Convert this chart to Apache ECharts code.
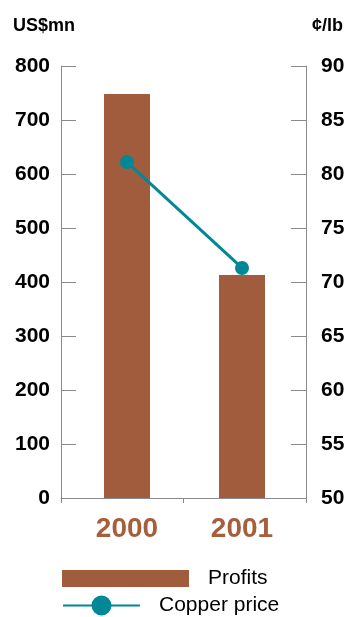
<!DOCTYPE html>
<html>
<head>
<meta charset="utf-8">
<script src="https://cdn.jsdelivr.net/npm/echarts@6/dist/echarts.min.js"></script>
<style>
  html, body { margin: 0; padding: 0; background: #ffffff; }
  #chart { width: 349px; height: 617px; }
</style>
</head>
<body>
<div id="chart"></div>
<script>
// Profits (US$mn, left axis) and copper price (¢/lb, right axis)
const years = ['2000', '2001'];
const profits = [748, 413];
const copperPrice = [81.1, 71.3];
const profitTicks = { min: 0, max: 800, interval: 100 };
const priceTicks = { min: 50, max: 90, interval: 5 };

const BAR = '#a05c3c';
const TEAL = '#008896';
const AXIS = '#8a8a8a';
const FONT = 'Liberation Sans, Arial, sans-serif';

const chart = echarts.init(document.getElementById('chart'), null, { renderer: 'canvas' });

const tickLabel = { color: '#000', fontFamily: FONT, fontWeight: 'bold', fontSize: 21 };

chart.setOption({
  animation: false,
  backgroundColor: '#ffffff',
  grid: [
    // frame with the visible axes
    { left: 61, top: 66, width: 245, height: 432 },
    // plotting area for the marks and year labels
    { left: 69.5, top: 66, width: 230, height: 432 }
  ],
  xAxis: [
    {
      type: 'category', gridIndex: 0, data: years, boundaryGap: true,
      axisLine: { show: true, lineStyle: { color: AXIS, width: 1 } },
      axisTick: { show: true, length: 5, lineStyle: { color: AXIS } },
      axisLabel: { show: false }
    },
    {
      type: 'category', gridIndex: 1, data: years, boundaryGap: true,
      axisLine: { show: false }, axisTick: { show: false },
      axisLabel: {
        margin: 17, color: '#a65e3c', fontFamily: FONT,
        fontWeight: 'bold', fontSize: 28
      }
    }
  ],
  yAxis: [
    {
      type: 'value', gridIndex: 0, position: 'left',
      min: profitTicks.min, max: profitTicks.max, interval: profitTicks.interval,
      axisLine: { show: true, lineStyle: { color: AXIS } },
      axisTick: { show: true, inside: true, length: 15, lineStyle: { color: AXIS } },
      splitLine: { show: false },
      axisLabel: Object.assign({ margin: 11 }, tickLabel)
    },
    {
      type: 'value', gridIndex: 0, position: 'right',
      min: priceTicks.min, max: priceTicks.max, interval: priceTicks.interval,
      axisLine: { show: true, lineStyle: { color: AXIS } },
      axisTick: { show: true, inside: true, length: 15, lineStyle: { color: AXIS } },
      splitLine: { show: false },
      axisLabel: Object.assign({ margin: 15 }, tickLabel)
    },
    {
      type: 'value', gridIndex: 1, show: false,
      min: profitTicks.min, max: profitTicks.max, interval: profitTicks.interval
    },
    {
      type: 'value', gridIndex: 1, show: false,
      min: priceTicks.min, max: priceTicks.max, interval: priceTicks.interval
    }
  ],
  legend: [
    {
      data: ['Profits'], left: 62, top: 568, orient: 'vertical', padding: 0,
      icon: 'rect', itemWidth: 127, itemHeight: 17, itemGap: 0,
      textStyle: { color: '#000', fontFamily: FONT, fontSize: 21, padding: [0, 0, 0, 14] }
    },
    {
      data: ['Copper price'], left: 62, top: 595, orient: 'vertical', padding: 0,
      itemWidth: 77, itemHeight: 25, itemGap: 0,
      textStyle: { color: '#000', fontFamily: FONT, fontSize: 21, padding: [0, 0, 0, 14] }
    }
  ],
  graphic: [
    {
      type: 'text', left: 13, top: 17,
      style: { text: 'US$mn', fill: '#000', font: 'bold 18px ' + FONT }
    },
    {
      type: 'text', right: 6, top: 17,
      style: { text: '¢/lb', fill: '#000', font: 'bold 18px ' + FONT }
    }
  ],
  series: [
    {
      name: 'Profits', type: 'bar', xAxisIndex: 1, yAxisIndex: 2,
      data: profits, barWidth: 46,
      itemStyle: { color: BAR }
    },
    {
      name: 'Copper price', type: 'line', xAxisIndex: 1, yAxisIndex: 3,
      data: copperPrice, symbol: 'circle', symbolSize: 14,
      lineStyle: { color: TEAL, width: 3 },
      itemStyle: { color: TEAL }
    }
  ]
});
</script>
</body>
</html>
